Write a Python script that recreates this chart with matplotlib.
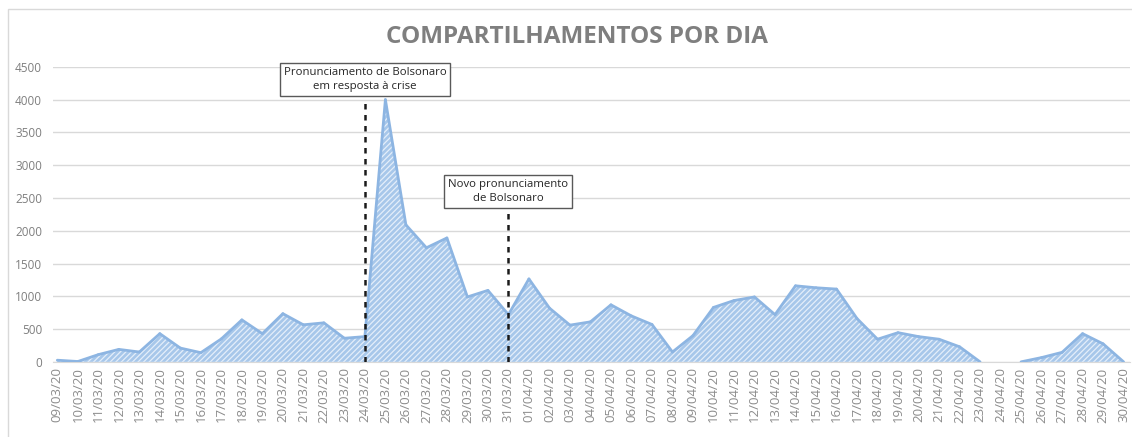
import matplotlib.pyplot as plt
import matplotlib.patches as mpatches
import numpy as np

plt.rcParams['font.family'] = ['Open Sans', 'DejaVu Sans']
plt.rcParams['hatch.linewidth'] = 0.9

dates = ["09/03/20", "10/03/20", "11/03/20", "12/03/20", "13/03/20", "14/03/20",
         "15/03/20", "16/03/20", "17/03/20", "18/03/20", "19/03/20", "20/03/20",
         "21/03/20", "22/03/20", "23/03/20", "24/03/20", "25/03/20", "26/03/20",
         "27/03/20", "28/03/20", "29/03/20", "30/03/20", "31/03/20", "01/04/20",
         "02/04/20", "03/04/20", "04/04/20", "05/04/20", "06/04/20", "07/04/20",
         "08/04/20", "09/04/20", "10/04/20", "11/04/20", "12/04/20", "13/04/20",
         "14/04/20", "15/04/20", "16/04/20", "17/04/20", "18/04/20", "19/04/20",
         "20/04/20", "21/04/20", "22/04/20", "23/04/20", "24/04/20", "25/04/20",
         "26/04/20", "27/04/20", "28/04/20", "29/04/20", "30/04/20"]
shares = [25, 5, 110, 190, 150, 430, 210, 140, 350, 640, 430, 735,
          565, 595, 360, 385, 4000, 2090, 1740, 1890, 990, 1090, 720, 1265,
          820, 560, 610, 870, 700, 570, 150, 400, 830, 935, 990, 720,
          1160, 1130, 1110, 660, 345, 445, 385, 345, 230, 0, 0, 0,
          65, 145, 430, 275, 0]

events = ["24/03/20", "31/03/20"]
event_texts = ["Pronunciamento de Bolsonaro\nem resposta à crise",
               "Novo pronunciamento\nde Bolsonaro"]
event_tops = [4000, 2350]
box_y = [4310, 2600]

x = np.arange(len(dates))
y = np.array(shares)

fig = plt.figure(figsize=(11.32, 4.37), dpi=100)
ax = fig.add_axes([0.047, 0.172, 0.951, 0.675])

# chart frame
fig.patches.append(mpatches.Rectangle((8 / 1132, -0.01), 1.02, 1 - 9 / 437 + 0.01,
                                      transform=fig.transFigure, fill=False,
                                      edgecolor='#d9d9d9', linewidth=1.0))

ax.fill_between(x, y, 0, facecolor='#a7c7ea', edgecolor='#e4eefa',
                hatch='//////', linewidth=0, zorder=2)
# outline, skipping flat stretches at zero
for i in range(len(x) - 1):
    if y[i] == 0 and y[i + 1] == 0:
        continue
    ax.plot(x[i:i + 2], y[i:i + 2], color='#8db5e2', linewidth=2.0,
            solid_capstyle='round', zorder=3)

ax.set_xlim(-0.2, len(dates) - 0.7)
ax.set_ylim(0, 4500)
ax.set_yticks(np.arange(0, 4501, 500))
ax.set_xticks(x)
ax.set_xticklabels(dates, rotation=90, fontsize=9.5, color='#8c8c8c')
ax.tick_params(axis='y', labelsize=8.5, labelcolor='#7f7f7f', length=0, pad=8)
ax.tick_params(axis='x', length=0, pad=4)
ax.grid(axis='y', color='#d9d9d9', linewidth=1, zorder=0)
ax.set_axisbelow(True)
for s in ['top', 'right', 'left']:
    ax.spines[s].set_visible(False)
ax.spines['bottom'].set_color('#d9d9d9')
ax.spines['bottom'].set_zorder(1)

for d, txt, top, by in zip(events, event_texts, event_tops, box_y):
    i = dates.index(d)
    ax.plot([i, i], [0, top], color='#1a1a1a', linewidth=1.8,
            linestyle=(0, (2.2, 2.2)), zorder=5)
    ax.text(i, by, txt, ha='center', va='center', fontsize=8.2, color='#262626',
            linespacing=1.3, zorder=6, clip_on=False,
            bbox=dict(boxstyle='square,pad=0.35', facecolor='white',
                      edgecolor='#595959', linewidth=1))

fig.text(0.51, 0.915, "COMPARTILHAMENTOS POR DIA", ha='center', va='center',
         fontsize=17.5, fontweight='bold', color='#7f7f7f')

fig.savefig('out.png', dpi=100)
